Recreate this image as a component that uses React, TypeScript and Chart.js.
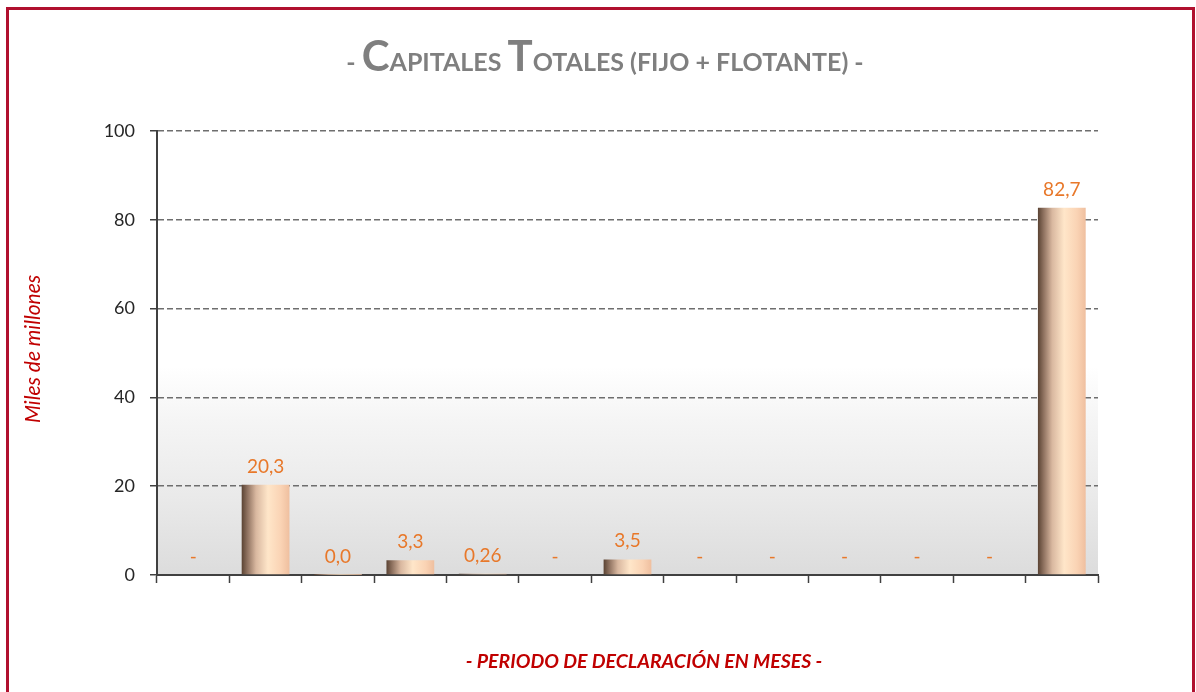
import React, { useEffect, useRef } from "react";
import { Chart, registerables } from "chart.js";

Chart.register(...registerables);

// ---- data ----
const categories = ["P1", "P2", "P3", "P4", "P5", "P6", "P7", "P8", "P9", "P10", "P11", "P12", "P13"];
const values = [0, 20.3, 0.02, 3.3, 0.26, 0, 3.5, 0, 0, 0, 0, 0, 82.7];
const valueLabels = ["-", "20,3", "0,0", "3,3", "0,26", "-", "3,5", "-", "-", "-", "-", "-", "82,7"];
const yMin = 0;
const yMax = 100;
const yStep = 20;

const titleParts = [
  { t: "- ", big: false },
  { t: "C", big: true },
  { t: "APITALES ", big: false },
  { t: "T", big: true },
  { t: "OTALES (FIJO + FLOTANTE) -", big: false },
];
const yTitle = "Miles de millones";
const xTitle = "- PERIODO DE DECLARACIÓN EN MESES -";

const BAR_PCT = 0.66;
const FONT = "Lato, 'Open Sans', sans-serif";

const decorPlugin = {
  id: "decor",
  beforeDraw(chart: any) {
    const { ctx, chartArea } = chart;
    if (!chartArea) return;
    const { left, right, top, bottom } = chartArea;
    const g = ctx.createLinearGradient(0, top, 0, bottom);
    g.addColorStop(0, "#ffffff");
    g.addColorStop(0.53, "#ffffff");
    g.addColorStop(0.65, "#f5f5f5");
    g.addColorStop(0.82, "#eaeaea");
    g.addColorStop(1, "#dcdcdc");
    ctx.save();
    ctx.fillStyle = g;
    ctx.fillRect(left, top, right - left, bottom - top);
    ctx.restore();
  },
  afterDatasetsDraw(chart: any) {
    const { ctx } = chart;
    const meta = chart.getDatasetMeta(0);
    ctx.save();
    ctx.fillStyle = "#e8782a";
    ctx.font = `19px ${FONT}`;
    ctx.textAlign = "center";
    ctx.textBaseline = "alphabetic";
    meta.data.forEach((bar: any, i: number) => {
      ctx.fillText(valueLabels[i], bar.x, bar.y - 12);
    });
    ctx.restore();
  },
  afterDraw(chart: any) {
    const { ctx } = chart;
    ctx.save();
    // title
    const bigFont = `bold 42px ${FONT}`;
    const smallFont = `bold 25px ${FONT}`;
    let total = 0;
    const widths = titleParts.map((p) => {
      ctx.font = p.big ? bigFont : smallFont;
      const w = ctx.measureText(p.t).width;
      total += w;
      return w;
    });
    let x = 605 - total / 2;
    ctx.fillStyle = "#7f7f7f";
    ctx.textBaseline = "alphabetic";
    ctx.textAlign = "left";
    titleParts.forEach((p, i) => {
      ctx.font = p.big ? bigFont : smallFont;
      ctx.fillText(p.t, x, 71);
      x += widths[i];
    });
    // y title
    ctx.fillStyle = "#c00000";
    ctx.font = `italic 21px ${FONT}`;
    ctx.textAlign = "center";
    ctx.textBaseline = "middle";
    ctx.translate(33, 349);
    ctx.rotate(-Math.PI / 2);
    ctx.fillText(yTitle, 0, 0);
    ctx.restore();
    // x title
    ctx.save();
    ctx.fillStyle = "#c00000";
    ctx.font = `italic bold 19.5px ${FONT}`;
    ctx.textAlign = "center";
    ctx.textBaseline = "middle";
    ctx.fillText(xTitle, 644, 662);
    ctx.restore();
  },
};

export default function App() {
  const ref = useRef<HTMLCanvasElement | null>(null);

  useEffect(() => {
    if (!ref.current) return;
    const chart = new Chart(ref.current, {
      type: "bar",
      data: {
        labels: categories,
        datasets: [
          {
            data: values,
            barPercentage: BAR_PCT,
            categoryPercentage: 1,
            borderWidth: 0,
            backgroundColor: (c: any) => {
              const ch = c.chart;
              const xs = ch.scales && ch.scales.x;
              if (!xs || !ch.chartArea || c.dataIndex === undefined) return "#f0c8a8";
              const cx = xs.getPixelForValue(c.dataIndex);
              const w = (xs.width / categories.length) * BAR_PCT;
              const g = ch.ctx.createLinearGradient(cx - w / 2, 0, cx + w / 2, 0);
              g.addColorStop(0, "#5a4333");
              g.addColorStop(0.12, "#8f7260");
              g.addColorStop(0.3, "#d9b8a0");
              g.addColorStop(0.55, "#ffe6c9");
              g.addColorStop(0.82, "#fad3b4");
              g.addColorStop(1, "#efbf9f");
              return g;
            },
          },
        ],
      },
      options: {
        animation: false,
        responsive: false,
        maintainAspectRatio: false,
        layout: { padding: { left: 0, top: 131, right: 98, bottom: 109 } },
        plugins: {
          legend: { display: false },
          title: { display: false },
          tooltip: { enabled: false },
        },
        scales: {
          x: {
            ticks: { display: false },
            grid: {
              offset: true,
              drawOnChartArea: false,
              drawTicks: true,
              tickLength: 8,
              tickColor: "#404040",
              tickWidth: 1.5,
            },
            border: { color: "#404040", width: 2 },
          },
          y: {
            min: yMin,
            max: yMax,
            ticks: {
              stepSize: yStep,
              color: "#262626",
              font: { family: FONT, size: 18 },
              padding: 15,
            },
            grid: {
              color: (c: any) => (c.tick && c.tick.value === 0 ? "rgba(0,0,0,0)" : "#6e6e6e"),
              lineWidth: 1.5,
              tickColor: "#404040",
              tickLength: 7,
              tickWidth: 1.5,
              tickBorderDash: [],
            },
            border: { color: "#404040", width: 2, dash: [6, 3] },
            afterFit: (s: any) => {
              s.width = 157;
            },
          } as any,
        },
      },
      plugins: [decorPlugin],
    } as any);
    return () => chart.destroy();
  }, []);

  return (
    <div>
      <canvas
        ref={ref}
        width={1196}
        height={692}
        style={{ position: "fixed", left: 0, top: 0, width: 1196, height: 692, display: "block" }}
      />
      <div
        style={{
          position: "fixed",
          left: 6,
          top: 7,
          width: 1189,
          height: 685,
          borderTop: "3px solid #b0102e",
          borderLeft: "3px solid #b0102e",
          borderRight: "3px solid #b0102e",
          boxSizing: "border-box",
          pointerEvents: "none",
        }}
      />
    </div>
  );
}
